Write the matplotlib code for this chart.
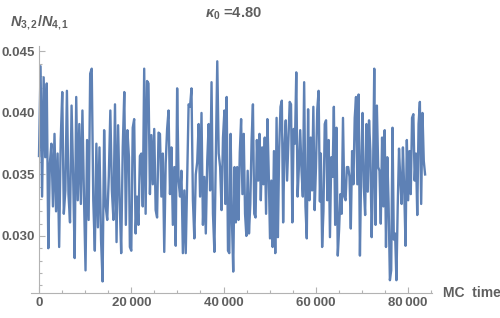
from matplotlib import pyplot as plt
from matplotlib.ticker import MultipleLocator, FuncFormatter
import numpy as np

plt.rcParams['font.family'] = ['Liberation Sans', 'DejaVu Sans']
plt.rcParams['mathtext.fontset'] = 'custom'
plt.rcParams['mathtext.rm'] = 'Liberation Sans:bold'
plt.rcParams['mathtext.it'] = 'Liberation Sans:italic:bold'

# ratio N_{3,2}/N_{4,1}, in four stretches of MC time
seg_a = [
    0.0365, 0.0438, 0.0332, 0.0429, 0.0364, 0.0424, 0.0290, 0.0359, 0.0375, 0.0324,
    0.0383, 0.0320, 0.0367, 0.0291, 0.0378, 0.0417, 0.0318, 0.0337, 0.0418, 0.0334,
    0.0311, 0.0406, 0.0350, 0.0282, 0.0413, 0.0329, 0.0391, 0.0326, 0.0402, 0.0332,
    0.0272, 0.0378, 0.0313, 0.0432, 0.0436, 0.0329, 0.0288, 0.0375, 0.0307, 0.0372,
    0.0297, 0.0263, 0.0386, 0.0324, 0.0313, 0.0348, 0.0402, 0.0337, 0.0313, 0.0407,
    0.0295, 0.0390, 0.0329, 0.0286, 0.0372, 0.0417, 0.0309, 0.0386, 0.0364,
]
seg_b = [
    0.0291, 0.0288, 0.0388, 0.0395, 0.0302, 0.0332, 0.0309, 0.0365, 0.0367, 0.0324,
    0.0436, 0.0318, 0.0426, 0.0424, 0.0334, 0.0382, 0.0342, 0.0387, 0.0321, 0.0315,
    0.0384, 0.0383, 0.0332, 0.0367, 0.0287, 0.0359, 0.0387, 0.0402, 0.0334, 0.0372,
    0.0309, 0.0356, 0.0292, 0.0420, 0.0345, 0.0332, 0.0353, 0.0286, 0.0337, 0.0286,
    0.0345, 0.0407, 0.0405, 0.0420, 0.0329, 0.0298, 0.0350, 0.0360, 0.0391, 0.0332,
    0.0400, 0.0309, 0.0348, 0.0302, 0.0361, 0.0391, 0.0337, 0.0425, 0.0318, 0.0287,
    0.0367, 0.0442, 0.0367, 0.0356, 0.0321, 0.0380, 0.0402,
]
seg_c = [
    0.0326, 0.0413, 0.0288, 0.0286, 0.0383, 0.0313, 0.0271, 0.0356, 0.0311, 0.0356,
    0.0313, 0.0368, 0.0395, 0.0334, 0.0383, 0.0318, 0.0300, 0.0353, 0.0302, 0.0326,
    0.0378, 0.0407, 0.0318, 0.0315, 0.0378, 0.0345, 0.0383, 0.0329, 0.0372, 0.0342,
    0.0380, 0.0318, 0.0395, 0.0353, 0.0298, 0.0345, 0.0291, 0.0369, 0.0286, 0.0396,
    0.0299, 0.0371, 0.0405, 0.0410, 0.0311, 0.0372, 0.0394, 0.0345, 0.0378, 0.0409,
    0.0407, 0.0311, 0.0387, 0.0375, 0.0433, 0.0332, 0.0356, 0.0386, 0.0353, 0.0332,
    0.0425, 0.0324, 0.0298, 0.0403, 0.0329, 0.0380, 0.0337, 0.0405, 0.0321, 0.0356,
    0.0403, 0.0418, 0.0328,
]
seg_d = [
    0.0367, 0.0291, 0.0320, 0.0391, 0.0394, 0.0329, 0.0378, 0.0299, 0.0364, 0.0348,
    0.0405, 0.0309, 0.0388, 0.0284, 0.0305, 0.0334, 0.0318, 0.0396, 0.0332, 0.0329,
    0.0356, 0.0356, 0.0348, 0.0306, 0.0369, 0.0342, 0.0396, 0.0413, 0.0342, 0.0415,
    0.0284, 0.0356, 0.0400, 0.0340, 0.0317, 0.0391, 0.0336, 0.0394, 0.0369, 0.0299,
    0.0345, 0.0436, 0.0309, 0.0406, 0.0356, 0.0353, 0.0310, 0.0380, 0.0324, 0.0386,
    0.0291, 0.0364, 0.0326, 0.0264, 0.0272, 0.0388, 0.0297, 0.0302, 0.0264, 0.0324,
    0.0371, 0.0345, 0.0326, 0.0372, 0.0337, 0.0292, 0.0378, 0.0329, 0.0369, 0.0334,
    0.0396, 0.0399, 0.0345, 0.0367, 0.0317, 0.0391, 0.0409, 0.0326, 0.0400, 0.0361,
    0.0350,
]
# MC time at which each stretch starts and ends
seg_start = [0, 19700, 40400, 61100]
seg_end = [19500, 40200, 60900, 83700]

segments = [seg_a, seg_b, seg_c, seg_d]
mc_time = np.concatenate([np.linspace(t0, t1, len(s))
                          for s, t0, t1 in zip(segments, seg_start, seg_end)])
ratio = np.concatenate(segments)

BLUE = '#5E81B5'
AXIS = '#b3b3b3'
TXT = '#5f5f5f'

fig = plt.figure(figsize=(5, 3.18), dpi=100)
ax = fig.add_axes([0.062, 0.0786, 0.802, 0.777])
ax.plot(mc_time, ratio, color=BLUE, linewidth=1.7)

ax.set_xlim(-1734, 85200)
ax.set_ylim(0.02536, 0.04545)

for s in ['top', 'right']:
    ax.spines[s].set_visible(False)
ax.spines['left'].set_position(('data', 0))
for s in ['left', 'bottom']:
    ax.spines[s].set_color(AXIS)
    ax.spines[s].set_linewidth(0.8)

ax.xaxis.set_major_locator(MultipleLocator(20000))
ax.xaxis.set_minor_locator(MultipleLocator(5000))
ax.yaxis.set_major_locator(MultipleLocator(0.005))
ax.yaxis.set_minor_locator(MultipleLocator(0.001))
ax.xaxis.set_major_formatter(FuncFormatter(
    lambda v, p: '0' if v == 0 else f'{int(v) // 1000}\u2009{int(v) % 1000:03d}'))
ax.yaxis.set_major_formatter(FuncFormatter(lambda v, p: f'{v:.3f}'))
ax.tick_params(which='both', direction='in', color=AXIS, labelcolor=TXT,
               labelsize=9.5, width=0.8)
ax.tick_params(which='major', length=4, pad=3)
ax.tick_params(which='minor', length=2.5)
for lab in ax.get_xticklabels() + ax.get_yticklabels():
    lab.set_fontweight('bold')

fig.text(0.466, 0.958, r'$\kappa_0$ =4.80', ha='center', va='center',
         fontsize=10.5, color=TXT, fontweight='bold')
fig.text(0.02, 0.928, r'$N_{3,2}$/$N_{4,1}$', ha='left', va='center',
         fontsize=10.5, color=TXT, fontweight='bold')
fig.text(0.886, 0.079, 'MC  time', ha='left', va='center',
         fontsize=10, color=TXT, fontweight='bold')

fig.savefig('out.png', dpi=100)
